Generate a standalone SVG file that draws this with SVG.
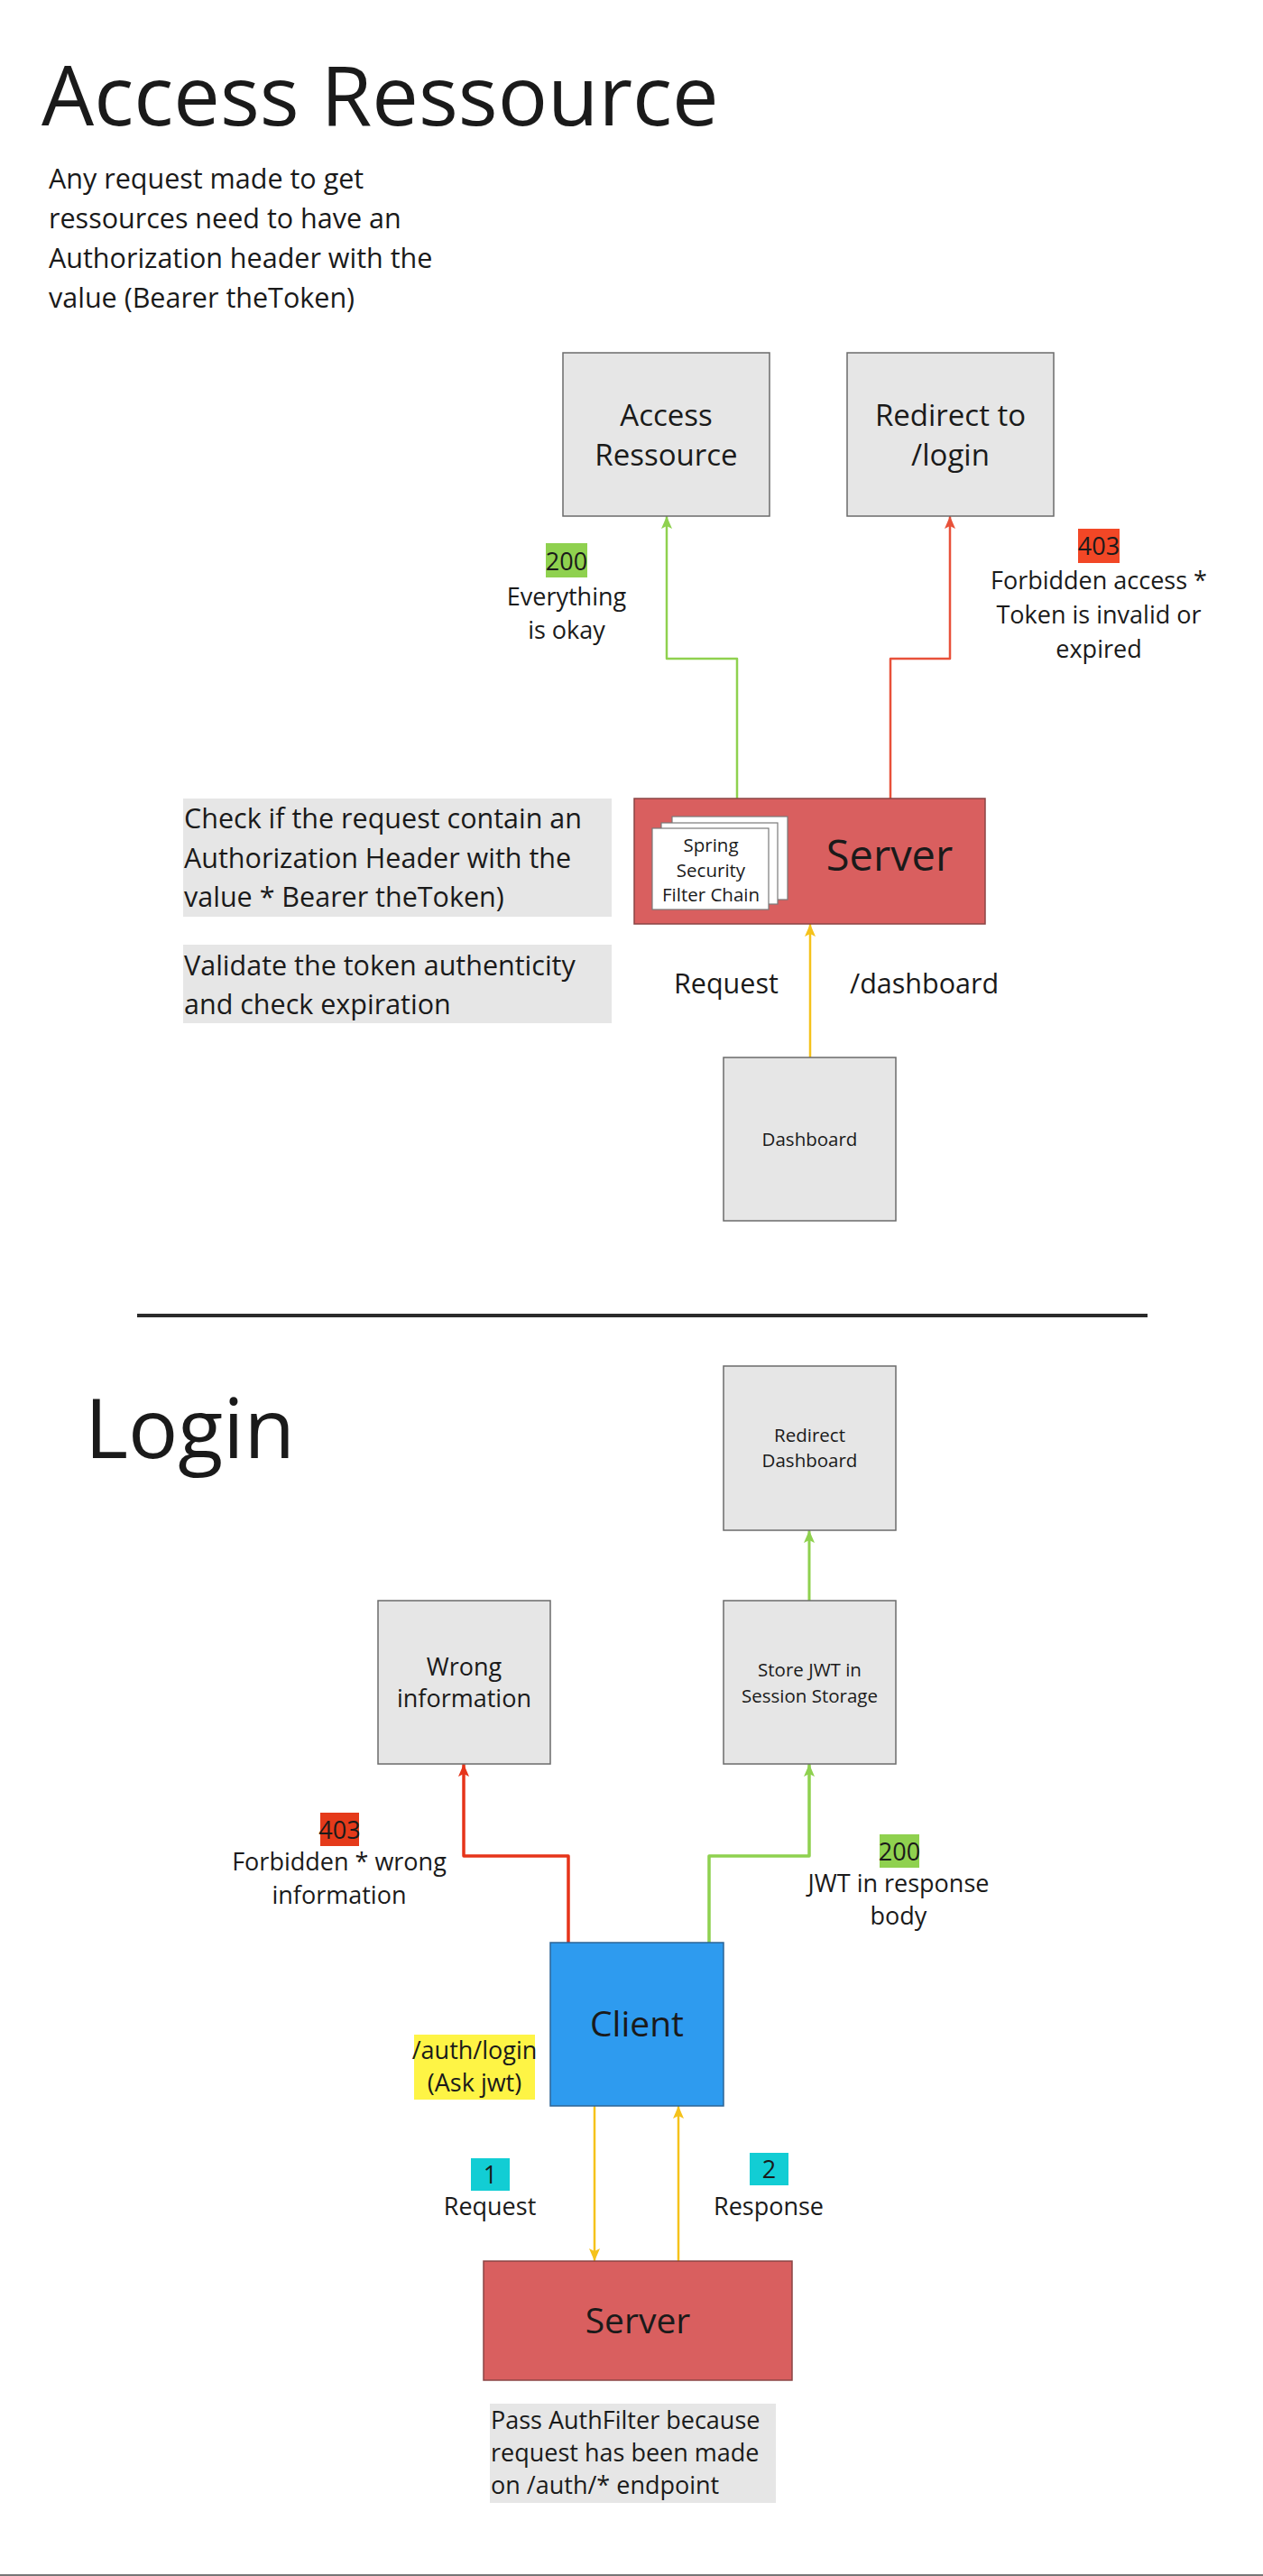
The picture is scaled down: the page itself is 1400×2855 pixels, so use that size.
<svg xmlns="http://www.w3.org/2000/svg" width="1400" height="2855" viewBox="0 0 1400 2855">
<style>
text{font-family:"Open Sans","Noto Sans","Liberation Sans",sans-serif;fill:#1a1a1a}
.box{fill:#e6e6e6;stroke:#6b6b6b;stroke-width:1.5}
.note{fill:#e6e6e6}
.srv{fill:#d95f5f;stroke:#8a4444;stroke-width:1.5}
.card{fill:#ffffff;stroke:#7a7a7a;stroke-width:1.2}
.c{text-anchor:middle}
.t30{font-size:30.5px}
.t26{font-size:27px}
.t20{font-size:20.5px}
.con{fill:none;stroke-linejoin:round;stroke-linecap:round}
</style>
<defs>
<marker id="ag" viewBox="0 0 14 12" refX="13" refY="6" markerWidth="14" markerHeight="12" markerUnits="userSpaceOnUse" orient="auto"><path d="M14 6 L0 0 L3 6 L0 12 Z" fill="#8fd14f"/></marker>
<marker id="ar" viewBox="0 0 14 12" refX="13" refY="6" markerWidth="14" markerHeight="12" markerUnits="userSpaceOnUse" orient="auto"><path d="M14 6 L0 0 L3 6 L0 12 Z" fill="#e8513a"/></marker>
<marker id="ar2" viewBox="0 0 14 12" refX="13" refY="6" markerWidth="14" markerHeight="12" markerUnits="userSpaceOnUse" orient="auto"><path d="M14 6 L0 0 L3 6 L0 12 Z" fill="#e6341a"/></marker>
<marker id="ay" viewBox="0 0 14 12" refX="13" refY="6" markerWidth="14" markerHeight="12" markerUnits="userSpaceOnUse" orient="auto"><path d="M14 6 L0 0 L3 6 L0 12 Z" fill="#f5c21b"/></marker>
</defs>
<rect width="1400" height="2855" fill="#ffffff"/>

<g id="title-access">
<text x="46" y="139" font-size="92">Access Ressource</text>
</g>
<g id="intro-text">
<text class="t30" x="54" y="209">Any request made to get</text>
<text class="t30" x="54" y="253">ressources need to have an</text>
<text class="t30" x="54" y="297">Authorization header with the</text>
<text class="t30" x="54" y="341">value (Bearer theToken)</text>
</g>

<g id="connectors">
<polyline class="con" points="817,885 817,730 739,730 739,573" stroke="#8fd14f" stroke-width="2.5" marker-end="url(#ag)"/>
<polyline class="con" points="987,885 987,730 1053,730 1053,573" stroke="#e8513a" stroke-width="2.5" marker-end="url(#ar)"/>
<line class="con" x1="898" y1="1172" x2="898" y2="1025" stroke="#f5c21b" stroke-width="2.5" marker-end="url(#ay)"/>
<line class="con" x1="897" y1="1774" x2="897" y2="1697" stroke="#8fd14f" stroke-width="3" marker-end="url(#ag)"/>
<polyline class="con" points="630,2153 630,2057 514,2057 514,1956" stroke="#e6341a" stroke-width="3.5" marker-end="url(#ar2)"/>
<polyline class="con" points="786,2153 786,2057 897,2057 897,1956" stroke="#8fd14f" stroke-width="3.5" marker-end="url(#ag)"/>
<line class="con" x1="659" y1="2335" x2="659" y2="2505" stroke="#f5c21b" stroke-width="2.5" marker-end="url(#ay)"/>
<line class="con" x1="752" y1="2506" x2="752" y2="2335" stroke="#f5c21b" stroke-width="2.5" marker-end="url(#ay)"/>
</g>

<g id="node-access-ressource">
<rect class="box" x="624" y="391" width="229" height="181"/>
<text class="c" x="738.5" y="472" font-size="33">Access</text>
<text class="c" x="738.5" y="516" font-size="33">Ressource</text>
</g>
<g id="node-redirect-login">
<rect class="box" x="939" y="391" width="229" height="181"/>
<text class="c" x="1053.5" y="472" font-size="33">Redirect to</text>
<text class="c" x="1053.5" y="516" font-size="33">/login</text>
</g>

<g id="label-200-top">
<rect x="605" y="602" width="46" height="38" fill="#8fd14f"/>
<text class="c t26" x="628" y="632">200</text>
<text class="c t26" x="628" y="671">Everything</text>
<text class="c t26" x="628" y="708">is okay</text>
</g>
<g id="label-403-top">
<rect x="1195" y="586" width="46" height="38" fill="#f24726"/>
<text class="c t26" x="1218" y="615">403</text>
<text class="c t26" x="1218" y="653">Forbidden access *</text>
<text class="c t26" x="1218" y="691">Token is invalid or</text>
<text class="c t26" x="1218" y="729">expired</text>
</g>

<g id="node-server-top">
<rect class="srv" x="703" y="885" width="389" height="139"/>
<rect class="card" x="745" y="905" width="128" height="92"/>
<rect class="card" x="733" y="912" width="129" height="90"/>
<rect class="card" x="723" y="918" width="129" height="90"/>
<text class="c t20" x="788" y="944">Spring</text>
<text class="c t20" x="788" y="972">Security</text>
<text class="c t20" x="788" y="999">Filter Chain</text>
<text class="c" x="986" y="965" font-size="47">Server</text>
</g>

<g id="note-check">
<rect class="note" x="203" y="885" width="475" height="131"/>
<text class="t30" x="204" y="918">Check if the request contain an</text>
<text class="t30" x="204" y="962">Authorization Header with the</text>
<text class="t30" x="204" y="1005">value * Bearer theToken)</text>
</g>
<g id="note-validate">
<rect class="note" x="203" y="1047" width="475" height="87"/>
<text class="t30" x="204" y="1081">Validate the token authenticity</text>
<text class="t30" x="204" y="1124">and check expiration</text>
</g>

<g id="label-request-dashboard">
<text class="t30" x="747" y="1101">Request</text>
<text class="t30" x="942" y="1101">/dashboard</text>
</g>

<g id="node-dashboard">
<rect class="box" x="802" y="1172" width="191" height="181"/>
<text class="c t20" x="897.5" y="1270">Dashboard</text>
</g>

<g id="separator">
<line x1="152" y1="1458" x2="1272" y2="1458" stroke="#2b2b2b" stroke-width="4"/>
</g>

<g id="title-login">
<text x="94" y="1616" font-size="92">Login</text>
</g>

<g id="node-redirect-dashboard">
<rect class="box" x="802" y="1514" width="191" height="182"/>
<text class="c t20" x="897.5" y="1598">Redirect</text>
<text class="c t20" x="897.5" y="1626">Dashboard</text>
</g>
<g id="node-wrong-information">
<rect class="box" x="419" y="1774" width="191" height="181"/>
<text class="c t26" x="514.5" y="1857">Wrong</text>
<text class="c t26" x="514.5" y="1892">information</text>
</g>
<g id="node-store-jwt">
<rect class="box" x="802" y="1774" width="191" height="181"/>
<text class="c t20" x="897.5" y="1858">Store JWT in</text>
<text class="c t20" x="897.5" y="1887">Session Storage</text>
</g>

<g id="label-403-bottom">
<rect x="355" y="2009" width="43" height="37" fill="#e53a1a"/>
<text class="c t26" x="376.5" y="2038">403</text>
<text class="c t26" x="376" y="2073">Forbidden * wrong</text>
<text class="c t26" x="376" y="2110">information</text>
</g>
<g id="label-200-bottom">
<rect x="975" y="2033" width="44" height="37" fill="#8fd14f"/>
<text class="c t26" x="997" y="2062">200</text>
<text class="c t26" x="996" y="2097">JWT in response</text>
<text class="c t26" x="996" y="2133">body</text>
</g>

<g id="node-client">
<rect x="610" y="2153" width="192" height="181" fill="#2e9bef" stroke="#2c6496" stroke-width="1.5"/>
<text class="c" x="706" y="2257" font-size="39">Client</text>
</g>

<g id="label-auth-login">
<rect x="459" y="2255" width="134" height="72" fill="#fef445"/>
<text class="c t26" x="526" y="2282">/auth/login</text>
<text class="c t26" x="526" y="2318">(Ask jwt)</text>
</g>

<g id="label-1-request">
<rect x="522" y="2392" width="43" height="36" fill="#12cdd4"/>
<text class="c t26" x="543.5" y="2420">1</text>
<text class="c t26" x="543" y="2455">Request</text>
</g>
<g id="label-2-response">
<rect x="831" y="2386" width="43" height="36" fill="#12cdd4"/>
<text class="c t26" x="852.5" y="2414">2</text>
<text class="c t26" x="852" y="2455">Response</text>
</g>

<g id="node-server-bottom">
<rect class="srv" x="536" y="2506" width="342" height="132"/>
<text class="c" x="707" y="2586" font-size="39">Server</text>
</g>

<g id="note-pass-authfilter">
<rect class="note" x="543" y="2664" width="317" height="110"/>
<text class="t26" x="544" y="2692">Pass AuthFilter because</text>
<text class="t26" x="544" y="2728">request has been made</text>
<text class="t26" x="544" y="2764">on /auth/* endpoint</text>
</g>

<g id="bottom-border">
<line x1="0" y1="2854" x2="1400" y2="2854" stroke="#777777" stroke-width="2"/>
</g>
</svg>
